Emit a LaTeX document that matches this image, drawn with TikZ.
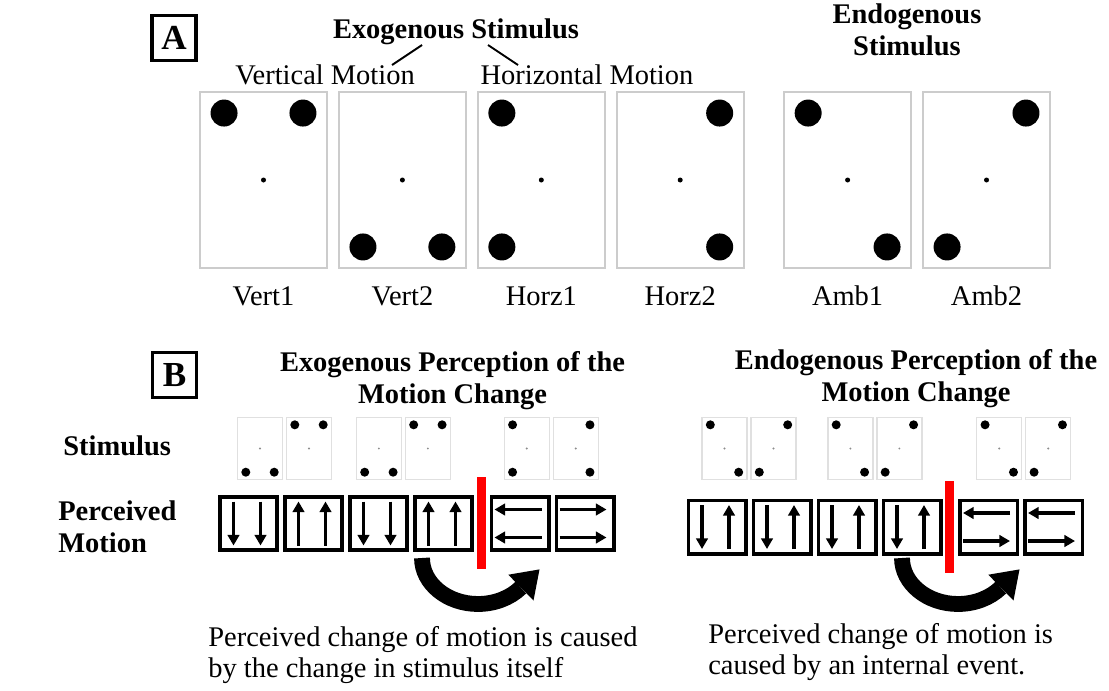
\documentclass[tikz,border=0pt]{standalone}
\usepackage{fontspec}
\setmainfont{Liberation Serif}
\usetikzlibrary{arrows.meta,positioning,calc}
\tikzstyle{panel} = [rectangle, draw=black!20, line width=1.1pt, fill=white, inner sep=0pt, minimum width=2.54cm, minimum height=3.52cm]
\tikzstyle{smallpanel} = [rectangle, draw=black!12, line width=0.8pt, fill=white, inner sep=0pt, minimum width=0.9cm, minimum height=1.24cm]
\tikzstyle{motion} = [rectangle, draw=black, line width=2pt, inner sep=0pt, minimum width=1.15cm, minimum height=1.07cm]
\tikzstyle{letterbox} = [rectangle, draw=black, line width=1.8pt, inner sep=0pt, minimum width=0.88cm, minimum height=0.9cm, font=\fontsize{20}{20}\selectfont\bfseries]
\tikzstyle{redbar} = [rectangle, fill=red, inner sep=0pt, minimum width=0.18cm, minimum height=1.84cm]
\tikzstyle{arrow} = [line width=1.8pt, -{Triangle[length=6pt,width=6.5pt]}]
\tikzstyle{bigarrow} = [line width=9pt]
\tikzstyle{heading} = [font=\fontsize{16.2}{17.8}\selectfont\bfseries, align=center, inner sep=0pt]
\tikzstyle{caption} = [font=\fontsize{16.2}{17.2}\selectfont, align=left, inner sep=0pt]
% dot positions: anchor/sign x/sign y
\def\pTop{north west/1/1,north east/-1/1}
\def\pBot{south west/1/-1,south east/-1/-1}
\def\pLeft{north west/1/1,south west/1/-1}
\def\pRight{north east/-1/1,south east/-1/-1}
\def\pDiagA{north west/1/1,south east/-1/-1}
\def\pDiagB{north east/-1/1,south west/1/-1}
% #1 node, #2 #3 offsets, #4 radius, #5 pattern name
\newcommand\stimdots[5]{%
  \edef\dotlist{\csname p#5\endcsname}%
  \foreach \c/\sx/\sy in \dotlist {\fill ([shift={(\sx*#2,\sy*#3)}]#1.\c) circle (#4);}}
% vertical pair: 1 = down, -1 = up
\newcommand\vpair[3]{%
  \draw[arrow] ([shift={(-15,-22*#2)}]#1.center) -- ([shift={(-15,22*#2)}]#1.center);
  \draw[arrow] ([shift={(12,-22*#3)}]#1.center) -- ([shift={(12,22*#3)}]#1.center);}
% horizontal pair: 1 = right, -1 = left
\newcommand\hpair[3]{%
  \draw[arrow] ([shift={(-2-23.5*#2,-14)}]#1.center) -- ([shift={(-2+23.5*#2,-14)}]#1.center);
  \draw[arrow] ([shift={(-2-23.5*#3,14)}]#1.center) -- ([shift={(-2+23.5*#3,14)}]#1.center);}

\begin{document}
\begin{tikzpicture}[x=0.02cm, y=-0.02cm, font=\fontsize{16.2}{17.8}\selectfont]
\useasboundingbox (0,0) rectangle (1109,690);
%----------------------------------------------------------------------------
% Panel A
\node (boxA) [letterbox] at (174,38) {A};
\node (exoStim) [heading, anchor=base] at (456,38) {Exogenous Stimulus};
\node (endoStim) [heading, anchor=base] at (907,55) {Endogenous\\Stimulus};
\node (vertMot) [inner sep=0pt, anchor=base] at (325,84) {Vertical Motion};
\node (horzMot) [inner sep=0pt, anchor=base] at (587,84) {Horizontal Motion};
\draw [line width=1.1pt] ([shift={(-34,7)}]exoStim.base) -- ([shift={(67,-19)}]vertMot.base);
\draw [line width=1.1pt] ([shift={(32,7)}]exoStim.base) -- ([shift={(-69,-19)}]horzMot.base);

\node (vert1) [panel] at (263.5,180) {};
\node (vert2) [panel, right=0.2cm of vert1] {};
\node (horz1) [panel, right=0.2cm of vert2] {};
\node (horz2) [panel, right=0.2cm of horz1] {};
\node (amb1) [panel, right=0.77cm of horz2] {};
\node (amb2) [panel, right=0.2cm of amb1] {};

\stimdots{vert1}{25}{22}{0.27cm}{Top}
\stimdots{vert2}{25}{22}{0.27cm}{Bot}
\stimdots{horz1}{25}{22}{0.27cm}{Left}
\stimdots{horz2}{25}{22}{0.27cm}{Right}
\stimdots{amb1}{25}{22}{0.27cm}{DiagA}
\stimdots{amb2}{25}{22}{0.27cm}{DiagB}
\foreach \p/\t in {vert1/Vert1, vert2/Vert2, horz1/Horz1, horz2/Horz2, amb1/Amb1, amb2/Amb2}{
  \fill (\p.center) circle (0.05cm);
  \node (lab-\p) [inner sep=0pt, anchor=base] at ([yshift=-0.74cm]\p.south) {\t};
}

%----------------------------------------------------------------------------
% Panel B
\node (boxB) [letterbox] at (174.5,375) {B};
\node (exoTitle) [heading, anchor=base] at (452.5,403) {Exogenous Perception of the\\Motion Change};
\node (endoTitle) [heading, anchor=base] at (916,401) {Endogenous Perception of the\\Motion Change};
\node (stimLab) [heading, anchor=base west] at (63,455) {Stimulus};
\node (percLab) [heading, align=left, anchor=base west] at (58,552) {Perceived\\Motion};

% stimulus strips
\node (sl1) [smallpanel] at (260,448.5) {};
\node (sl2) [smallpanel, right=0.052cm of sl1] {};
\node (sl3) [smallpanel, right=0.47cm of sl2] {};
\node (sl4) [smallpanel, right=0.052cm of sl3] {};
\node (sl5) [smallpanel, right=1.05cm of sl4] {};
\node (sl6) [smallpanel, right=0.052cm of sl5] {};
\node (sr1) [smallpanel] at (724.5,448.5) {};
\node (sr2) [smallpanel, right=0.052cm of sr1] {};
\node (sr3) [smallpanel, right=0.61cm of sr2] {};
\node (sr4) [smallpanel, right=0.052cm of sr3] {};
\node (sr5) [smallpanel, right=1.07cm of sr4] {};
\node (sr6) [smallpanel, right=0.052cm of sr5] {};
\foreach \p/\d in {sl1/Bot, sl2/Top, sl3/Bot, sl4/Top, sl5/Left, sl6/Right,
                   sr1/DiagA, sr2/DiagB, sr3/DiagA, sr4/DiagB, sr5/DiagA, sr6/DiagB}{
  \stimdots{\p}{9}{8}{0.09cm}{\d}
  \fill[black!45] (\p.center) circle (0.022cm);
}

% perceived motion boxes
\node (ml1) [motion] at (248.5,523.5) {};
\node (ml2) [motion, right=0.08cm of ml1] {};
\node (ml3) [motion, right=0.08cm of ml2] {};
\node (ml4) [motion, right=0.08cm of ml3] {};
\node (ml5) [motion, right=0.31cm of ml4] {};
\node (ml6) [motion, right=0.08cm of ml5] {};
\node (mr1) [motion] at (717,527) {};
\node (mr2) [motion, right=0.08cm of mr1] {};
\node (mr3) [motion, right=0.08cm of mr2] {};
\node (mr4) [motion, right=0.08cm of mr3] {};
\node (mr5) [motion, right=0.31cm of mr4] {};
\node (mr6) [motion, right=0.08cm of mr5] {};

\vpair{ml1}{1}{1}
\vpair{ml2}{-1}{-1}
\vpair{ml3}{1}{1}
\vpair{ml4}{-1}{-1}
\hpair{ml5}{-1}{-1}
\hpair{ml6}{1}{1}
\foreach \m in {mr1,mr2,mr3,mr4}{\vpair{\m}{1}{-1}}
\hpair{mr5}{-1}{1}
\hpair{mr6}{-1}{1}

\node (cutL) [redbar] at (481,523) {};
\node (cutR) [redbar] at (949.5,527) {};

% turning arrows
\foreach \s/\dx in {L/0, R/480}{
  \coordinate (turn\s) at (422+\dx,558);
  \draw [bigarrow] (turn\s) arc[start angle=180, end angle=320, x radius=1.12cm, y radius=0.92cm];
  \fill (539.5+\dx,569.4) -- (533.5+\dx,600.5) -- (508.3+\dx,574.7) -- cycle;
}

\node (noteL) [caption, anchor=base west] at (208,677) {Perceived change of motion is caused\\by the change in stimulus itself};
\node (noteR) [caption, anchor=base west] at (708,674) {Perceived change of motion is\\caused by an internal event.};

\end{tikzpicture}
\end{document}
